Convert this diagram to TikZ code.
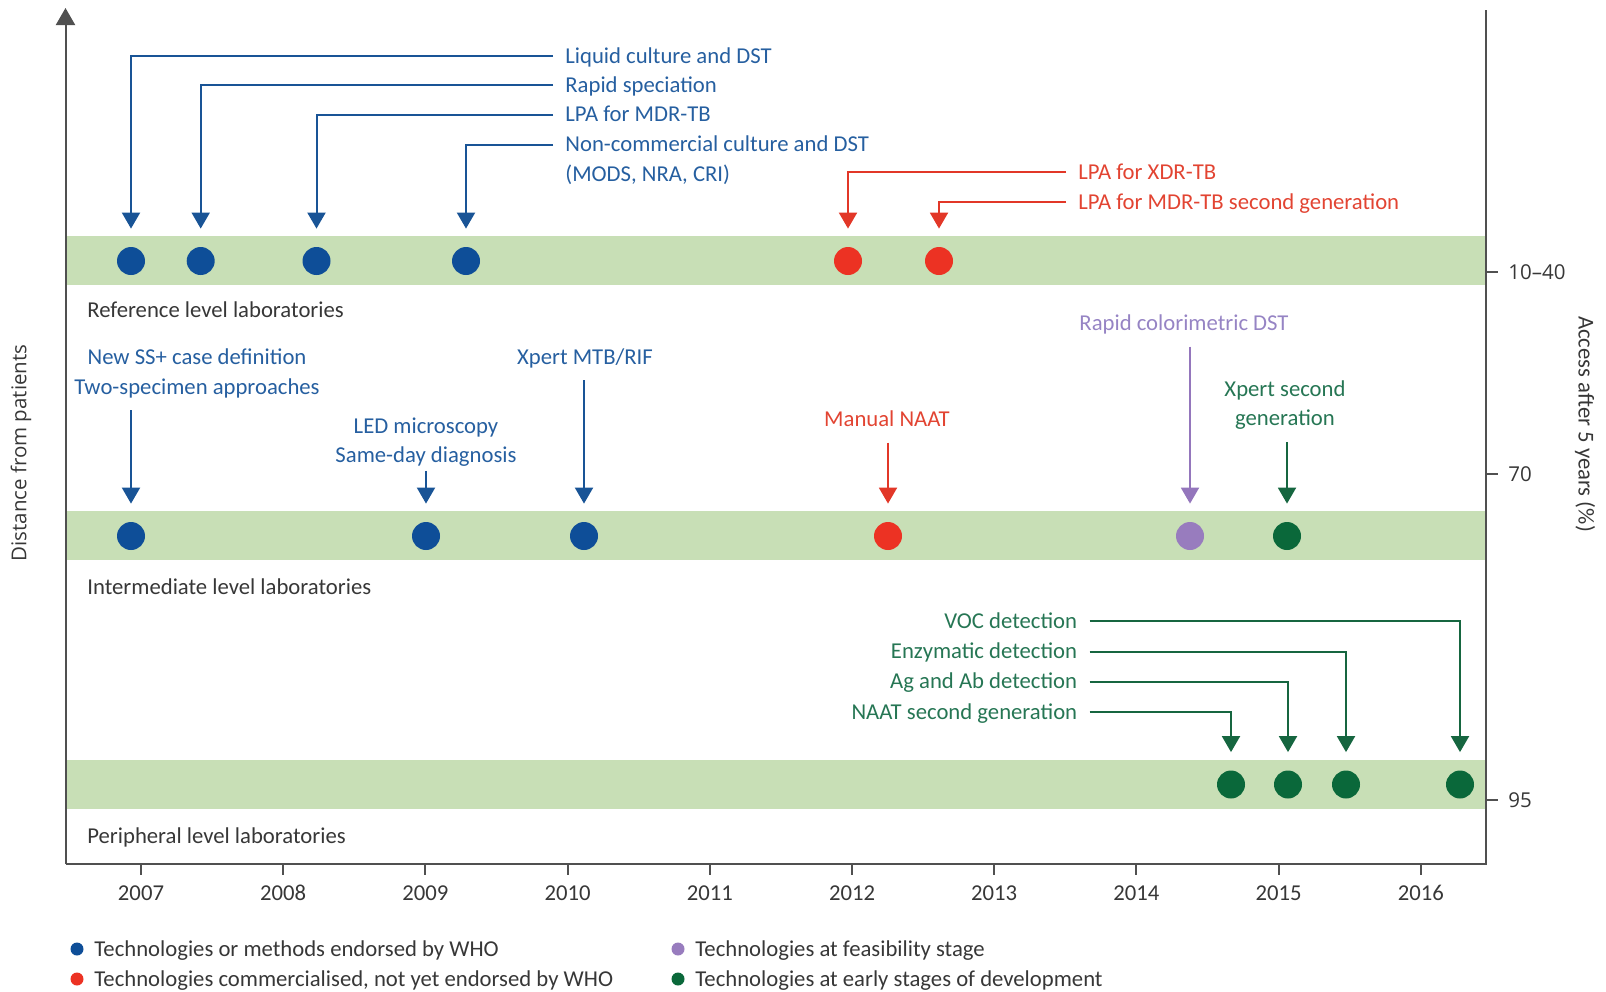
\documentclass[tikz,border=0pt]{standalone}
\usepackage{fontspec}
\setmainfont{Carlito}
\newfontfamily\osans{Open Sans}
\usetikzlibrary{arrows.meta}
\definecolor{bandc}{RGB}{200,223,182}
\definecolor{axisc}{RGB}{80,80,80}
\definecolor{txtc}{RGB}{55,55,55}
\definecolor{bluedot}{RGB}{14,78,152}
\definecolor{bluetxt}{RGB}{38,95,160}
\definecolor{bluearr}{RGB}{25,84,150}
\definecolor{reddot}{RGB}{236,50,35}
\definecolor{redtxt}{RGB}{226,68,50}
\definecolor{redarr}{RGB}{226,55,40}
\definecolor{purpdot}{RGB}{152,124,190}
\definecolor{purptxt}{RGB}{150,132,196}
\definecolor{purparr}{RGB}{148,118,188}
\definecolor{greendot}{RGB}{10,104,58}
\definecolor{greentxt}{RGB}{38,118,84}
\definecolor{greenarr}{RGB}{22,102,64}
\newcommand{\labfont}{\fontsize{11.35pt}{13.6pt}\selectfont}
\newcommand{\axfont}{\osans\fontsize{10.25pt}{12pt}\selectfont}
\begin{document}
\begin{tikzpicture}[x=0.5pt,y=-0.5pt,
  lab/.style={font=\labfont, inner xsep=6pt, inner ysep=6pt, text height=7.3pt, text depth=0pt},
  lvl/.style={font=\labfont, text=txtc, inner sep=0pt, anchor=base west},
  yr/.style={font=\labfont, text=txtc, anchor=base, inner sep=0pt},
  rlab/.style={font=\axfont, text=txtc, anchor=base west, inner sep=0pt},
  dot/.style={circle, minimum size=14pt, inner sep=0pt},
  ldot/.style={circle, minimum size=6.5pt, inner sep=0pt},
  conn/.style={line width=1pt, -{Triangle[width=9pt,length=8pt]}, shorten >=9pt},
  axl/.style={line width=1pt, draw=axisc}
]
\useasboundingbox (0,0) rectangle (1606,991);

% bands
\fill[bandc] (65.5,235.6) rectangle (1486,284.7);
\fill[bandc] (65.5,510.5) rectangle (1486,560);
\fill[bandc] (65.5,759.5) rectangle (1486,809);

% axes
\draw[axl, -{Triangle[width=9.5pt,length=8.5pt]}] (65.5,864) -- (65.5,8);
\draw[axl] (65.5,864) -- (1486,864) -- (1486,10);
\foreach \i/\yv in {0/2007,1/2008,2/2009,3/2010,4/2011,5/2012,6/2013,7/2014,8/2015,9/2016}{
  \draw[axl] (141+142.2*\i,864) -- (141+142.2*\i,875);
  \node[yr] (y\yv) at (141+142.2*\i,900) {\yv};
}
\draw[axl] (1486,272.4) -- (1498,272.4);
\draw[axl] (1486,474.2) -- (1498,474.2);
\draw[axl] (1486,800) -- (1498,800);
\node[rlab] (r1) at (1508,279.6) {10–40};
\node[rlab] (r2) at (1508,481.4) {70};
\node[rlab] (r3) at (1508,807.2) {95};
\node[font=\axfont, text=txtc, rotate=90, inner sep=0pt] (dist) at (21,453) {Distance from patients};
\node[font=\labfont, text=txtc, rotate=-90, inner sep=0pt] (acc) at (1585,424) {Access after 5 years (\%)};

% level labels
\node[lvl] (lref) at (87,317.5) {Reference level laboratories};
\node[lvl] (lint) at (87,594) {Intermediate level laboratories};
\node[lvl] (lper) at (87,843.5) {Peripheral level laboratories};

% dots band 1
\node[dot, fill=bluedot] (b11) at (131,261) {};
\node[dot, fill=bluedot] (b12) at (200.7,261) {};
\node[dot, fill=bluedot] (b13) at (316.5,261) {};
\node[dot, fill=bluedot] (b14) at (466,261) {};
\node[dot, fill=reddot] (r11) at (848,261) {};
\node[dot, fill=reddot] (r12) at (939,261) {};
% dots band 2
\node[dot, fill=bluedot] (b21) at (131,536) {};
\node[dot, fill=bluedot] (b22) at (426,536) {};
\node[dot, fill=bluedot] (b23) at (584,536) {};
\node[dot, fill=reddot] (r21) at (888,536) {};
\node[dot, fill=purpdot] (p21) at (1190,536) {};
\node[dot, fill=greendot] (g21) at (1287,536) {};
% dots band 3
\node[dot, fill=greendot] (g31) at (1231,784.5) {};
\node[dot, fill=greendot] (g32) at (1288,784.5) {};
\node[dot, fill=greendot] (g33) at (1346,784.5) {};
\node[dot, fill=greendot] (g34) at (1460,784.5) {};

% top labels
\node[lab, text=bluetxt, anchor=base west] (lcd) at (553,63.3) {Liquid culture and DST};
\node[lab, text=bluetxt, anchor=base west] (rsp) at (553,92.3) {Rapid speciation};
\node[lab, text=bluetxt, anchor=base west] (lpa) at (553,121.8) {LPA for MDR-TB};
\node[lab, text=bluetxt, anchor=base west] (nc1) at (553,151.8) {Non-commercial culture and DST};
\node[lab, text=bluetxt, anchor=base west] (nc2) at (553,181.8) {(MODS, NRA, CRI)};
\node[lab, text=redtxt, anchor=base west] (xdr) at (1066,179.3) {LPA for XDR-TB};
\node[lab, text=redtxt, anchor=base west] (mdr2) at (1066,209) {LPA for MDR-TB second generation};

\draw[conn, bluearr] (lcd.west) -| (b11);
\draw[conn, bluearr] (rsp.west) -| (b12);
\draw[conn, bluearr] (lpa.west) -| (b13);
\draw[conn, bluearr] (nc1.west) -| (b14);
\draw[conn, redarr] (xdr.west) -| (r11);
\draw[conn, redarr] (mdr2.west) -| (r12);

% band 2 labels
\node[lab, text=bluetxt, anchor=base] (ss1) at (197,364) {New SS+ case definition};
\node[lab, text=bluetxt, anchor=base] (ss2) at (197,394) {Two-specimen approaches};
\node[lab, text=bluetxt, anchor=base] (led1) at (426,433.3) {LED microscopy};
\node[lab, text=bluetxt, anchor=base] (led2) at (426,462.5) {Same-day diagnosis};
\node[lab, text=bluetxt, anchor=base] (xmr) at (585,364) {Xpert MTB/RIF};
\node[lab, text=redtxt, anchor=base] (mna) at (887,426.3) {Manual NAAT};
\node[lab, text=purptxt, anchor=base] (rcd) at (1184,330.3) {Rapid colorimetric DST};
\node[lab, text=greentxt, anchor=base] (xs1) at (1285,396.3) {Xpert second};
\node[lab, text=greentxt, anchor=base] (xs2) at (1285,425.8) {generation};

\draw[conn, bluearr, shorten <=2pt] (ss2.south -| b21) -- (b21);
\draw[conn, bluearr, shorten <=-2pt] (led2.south -| b22) -- (b22);
\draw[conn, bluearr, shorten <=2pt] (xmr.south -| b23) -- (b23);
\draw[conn, redarr, shorten <=2pt] (mna.south -| r21) -- (r21);
\draw[conn, purparr, shorten <=2pt] (rcd.south -| p21) -- (p21);
\draw[conn, greenarr, shorten <=2pt] (xs2.south -| g21) -- (g21);

% band 3 labels
\node[lab, text=greentxt, anchor=base east] (voc) at (1089.5,628.3) {VOC detection};
\node[lab, text=greentxt, anchor=base east] (enz) at (1089.5,658.8) {Enzymatic detection};
\node[lab, text=greentxt, anchor=base east] (agab) at (1089.5,688.8) {Ag and Ab detection};
\node[lab, text=greentxt, anchor=base east] (naat) at (1089.5,719.3) {NAAT second generation};

\draw[conn, greenarr] (voc.east) -| (g34);
\draw[conn, greenarr] (enz.east) -| (g33);
\draw[conn, greenarr] (agab.east) -| (g32);
\draw[conn, greenarr] (naat.east) -| (g31);

% legend
\node[ldot, fill=bluedot] (lg1) at (77,949) {};
\node[lvl] (lt1) at (94,956.3) {Technologies or methods endorsed by WHO};
\node[ldot, fill=reddot] (lg2) at (77,979) {};
\node[lvl] (lt2) at (94,986.3) {Technologies commercialised, not yet endorsed by WHO};
\node[ldot, fill=purpdot] (lg3) at (678,949) {};
\node[lvl] (lt3) at (695,956.3) {Technologies at feasibility stage};
\node[ldot, fill=greendot] (lg4) at (678,979) {};
\node[lvl] (lt4) at (695,986.3) {Technologies at early stages of development};
\end{tikzpicture}
\end{document}
